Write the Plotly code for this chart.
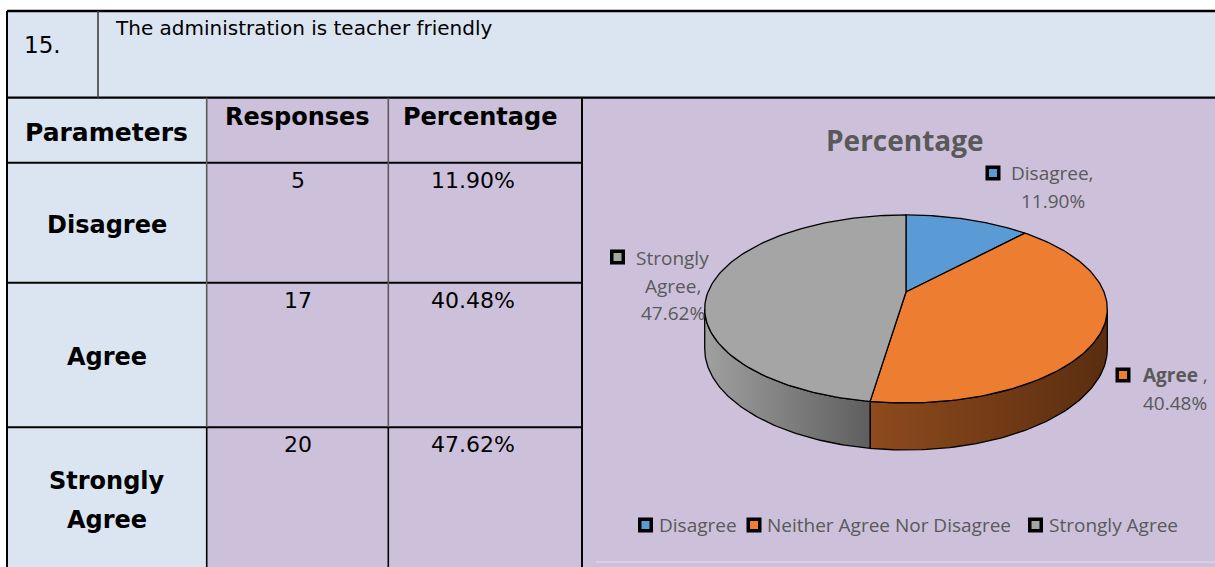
import numpy as np
import plotly.graph_objects as go

# ---------------- data ----------------
question_no = "15."
question = "The administration is teacher friendly"
header = ["Parameters", "Responses", "Percentage"]
categories = ["Disagree", "Agree", "Strongly Agree"]
responses = [5, 17, 20]
percent_text = ["11.90%", "40.48%", "47.62%"]
legend_names = ["Disagree", "Neither Agree Nor Disagree", "Strongly Agree"]
chart_title = "Percentage"

# ---------------- style / layout ----------------
W, H = 1215, 567
top_colors = ["#5b9bd5", "#ed7d31", "#a5a5a5"]
side_gradients = [
    ["#3f6f9c", "#2e5478"],
    ["#8e4b1d", "#5a2d10"],
    ["#a0a0a0", "#5e5e5e"],
]
BLUE_CELL = "#dbe5f1"
PURPLE_CELL = "#ccc0da"
LABEL_GRAY = "#595959"
TABLE_FONT = "DejaVu Sans"
CHART_FONT = "Open Sans"

# table grid (pixels)
X0, XN, X1, X2, X3 = 7, 98, 206.7, 388.3, 582
Y0, Y1 = 11, 97.7
ROW_TOPS = [162.7, 282.7, 427.3]
YB = H + 2

# pie geometry (perspective projected 3-D pie)
CX, CY = 906, 292
R, K, BR, THICK = 198, 0.18, 90.9, 38.6


def rim(theta, drop=0.0):
    w = 1 + K * np.cos(theta)
    x = CX + R * np.sin(theta) / w
    y = CY - BR * np.cos(theta) / w + drop / w
    return x, y


fig = go.Figure()

# ---------------- table cells ----------------
shapes = []


def rect(x0, y0, x1, y1, color):
    shapes.append(dict(type="rect", xref="x", yref="y", x0=x0, y0=y0, x1=x1, y1=y1,
                       fillcolor=color, line=dict(width=0), layer="below"))


def line(x0, y0, x1, y1, color="black", width=2):
    shapes.append(dict(type="line", xref="x", yref="y", x0=x0, y0=y0, x1=x1, y1=y1,
                       line=dict(color=color, width=width), layer="below"))


rect(X0, Y0, W + 5, Y1, BLUE_CELL)
rect(X0, Y1, X1, YB, BLUE_CELL)
rect(X1, Y1, W + 5, YB, PURPLE_CELL)

# faint chart-area border
line(596, 562, W + 5, 562, "#ddd4e8", 1.5)

line(X0, Y0, W + 5, Y0, "black", 2.5)
line(X0, Y1, W + 5, Y1, "black", 2.2)
for yt in ROW_TOPS:
    line(X0, yt, X3, yt, "black", 2)
line(X0, Y0, X0, YB, "black", 2)
line(XN, Y0, XN, Y1, "#404040", 1.6)
for xc in (X1, X2):
    line(xc, Y1, xc, ROW_TOPS[2], "#5a5a5a", 1.6)
    line(xc, ROW_TOPS[2], xc, YB, "black", 1.6)
line(X3, Y1, X3, YB, "black", 2)

annotations = []


def text(x, y, s, size, anchor="center", color="black", family=TABLE_FONT):
    annotations.append(dict(x=x, y=y, xref="x", yref="y", text=s, showarrow=False,
                            xanchor=anchor, yanchor="middle",
                            font=dict(family=family, size=size, color=color)))


text(22, 45, question_no, 23, "left")
text(113, 28, question, 20, "left")
text((X0 + X1) / 2, 132, "<b>%s</b>" % header[0], 25)
text((X1 + X2) / 2, 117, "<b>%s</b>" % header[1], 24)
text(480, 117, "<b>%s</b>" % header[2], 24)

row_label_y = [[225], [357], [481, 520]]
for i, cat in enumerate(categories):
    top = ROW_TOPS[i]
    text((X1 + X2) / 2, top + 17.5, str(responses[i]), 22)
    text(473, top + 17.5, percent_text[i], 22)
    words = [cat] if len(row_label_y[i]) == 1 else cat.split(" ")
    for w_, yy in zip(words, row_label_y[i]):
        text((X0 + X1) / 2, yy, "<b>%s</b>" % w_, 24)

# ---------------- 3-D pie ----------------
total = float(sum(responses))
fracs = np.array(responses) / total
bounds = np.concatenate([[0.0], np.cumsum(fracs)]) * 2 * np.pi
th_r = np.arccos(-K)
th_l = 2 * np.pi - np.arccos(-K)

# visible side walls
for i in range(len(categories)):
    a, b = max(bounds[i], th_r), min(bounds[i + 1], th_l)
    if b <= a:
        continue
    t = np.linspace(a, b, 80)
    xt, yt = rim(t)
    xb, yb = rim(t[::-1], THICK)
    fig.add_trace(go.Scatter(
        x=np.concatenate([xt, xb, xt[:1]]), y=np.concatenate([yt, yb, yt[:1]]),
        mode="lines", fill="toself",
        fillgradient=dict(type="horizontal",
                          colorscale=[[0, side_gradients[i][0]], [1, side_gradients[i][1]]]),
        line=dict(color="black", width=1.3), hoverinfo="skip", showlegend=False))

# top faces
for i, cat in enumerate(categories):
    t = np.linspace(bounds[i], bounds[i + 1], 120)
    xr, yr = rim(t)
    fig.add_trace(go.Scatter(
        x=np.concatenate([[CX], xr, [CX]]), y=np.concatenate([[CY], yr, [CY]]),
        mode="lines", fill="toself", fillcolor=top_colors[i],
        line=dict(color="black", width=1.3), name=legend_names[i],
        hoverinfo="skip", showlegend=False))

# chart title
text(905, 140, "<b>%s</b>" % chart_title, 28, color=LABEL_GRAY, family=CHART_FONT)

# data labels (line centres) and their legend-key markers
label_layout = [
    dict(cx=1052.5, ys=[173, 201], marker=(993, 173)),
    dict(cx=1175, ys=[375, 403], marker=(1123, 375)),
    dict(cx=672.5, ys=[258, 286, 313], marker=(617.5, 257)),
]
mk_x, mk_y, mk_c = [], [], []
for i, cat in enumerate(categories):
    lay = label_layout[i]
    if i == 1:
        lines_ = ["<b>%s</b> ," % cat, percent_text[i]]
    else:
        parts = cat.split(" ")
        parts[-1] = parts[-1] + ","
        lines_ = parts + [percent_text[i]]
    for s, yy in zip(lines_, lay["ys"]):
        text(lay["cx"], yy, s, 19, color=LABEL_GRAY, family=CHART_FONT)
    mk_x.append(lay["marker"][0])
    mk_y.append(lay["marker"][1])
    mk_c.append(top_colors[i])

# legend (bottom)
legend_marker_x = [645.5, 754, 1035.5]
legend_text_x = [657, 765, 1047]
LEG_Y = 525
for i, name in enumerate(legend_names):
    text(legend_text_x[i], LEG_Y, name, 19, "left", LABEL_GRAY, CHART_FONT)
    mk_x.append(legend_marker_x[i])
    mk_y.append(LEG_Y)
    mk_c.append(top_colors[i])

fig.add_trace(go.Scatter(
    x=mk_x, y=mk_y, mode="markers",
    marker=dict(symbol="square", size=11.5, color=mk_c, line=dict(color="black", width=3.5)),
    hoverinfo="skip", showlegend=False))

fig.update_layout(
    width=W, height=H, margin=dict(l=0, r=0, t=0, b=0),
    paper_bgcolor="white", plot_bgcolor="rgba(0,0,0,0)",
    xaxis=dict(range=[0, W], visible=False, fixedrange=True),
    yaxis=dict(range=[H, 0], visible=False, fixedrange=True),
    showlegend=False, shapes=shapes, annotations=annotations,
)

fig.write_html(
    "out.html",
    config={"displayModeBar": False},
    post_script="document.body.style.margin='0';document.body.style.overflow='hidden';",
)
